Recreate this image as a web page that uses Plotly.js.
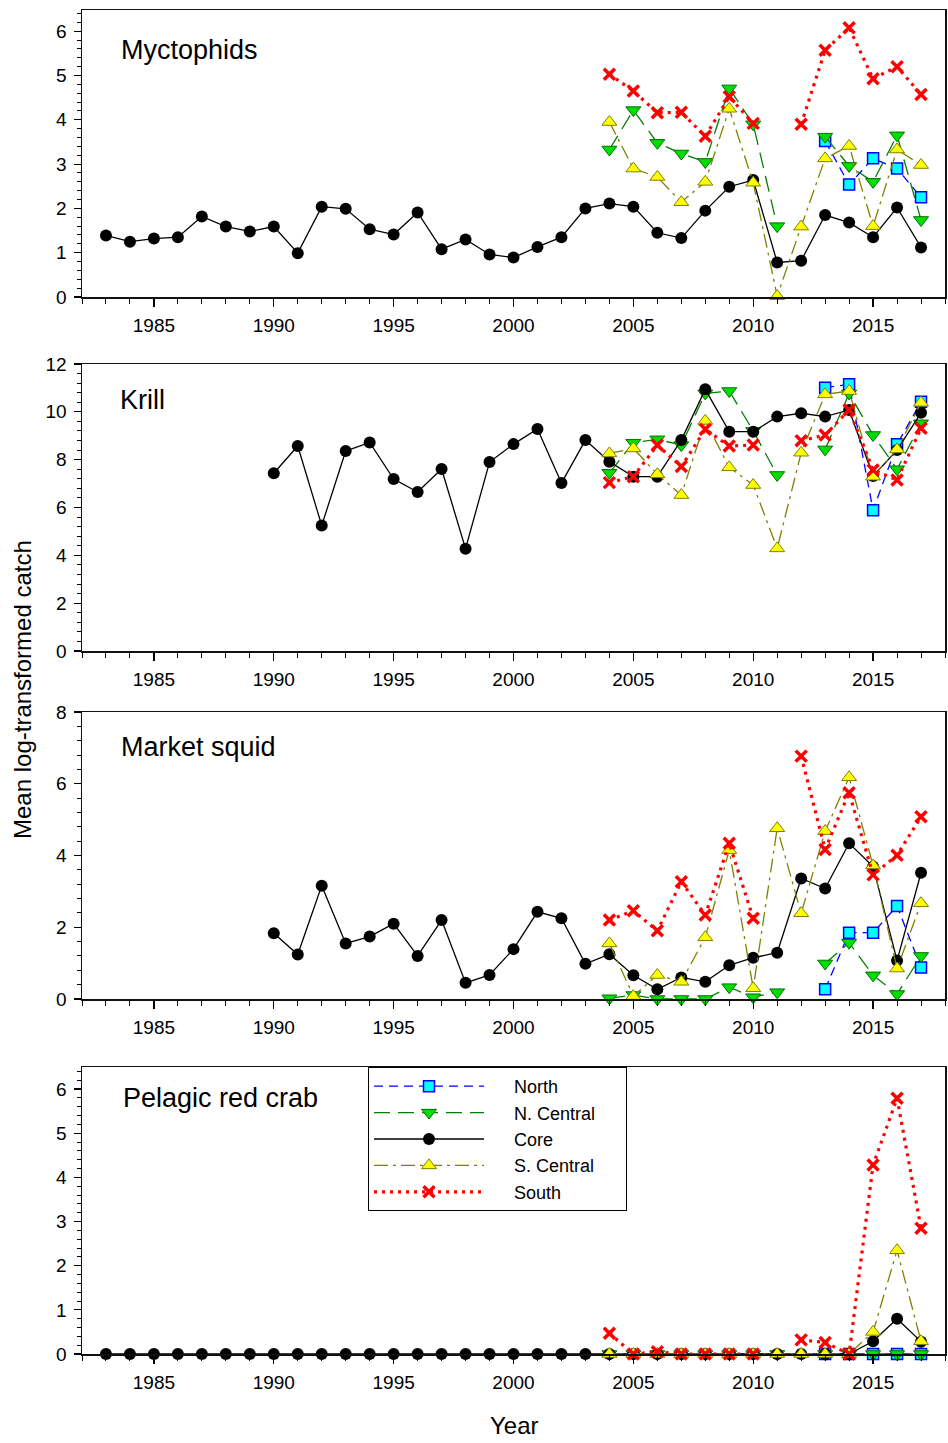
<!DOCTYPE html>
<html>
<head>
<meta charset="utf-8">
<script src="https://cdn.plot.ly/plotly-3.0.1.min.js"></script>
<style>html,body{margin:0;padding:0;background:#fff;}#chart{width:948px;height:1443px;}</style>
</head>
<body>
<div id="chart"></div>
<script>
// ---------------- DATA ----------------
const yearsLong = [1983,1984,1985,1986,1987,1988,1989,1990,1991,1992,1993,1994,1995,1996,1997,1998,1999,2000,2001,2002,2003,2004,2005,2006,2007,2008,2009,2010,2011,2012,2013,2014,2015,2016,2017];
const yearsMid = [1990,1991,1992,1993,1994,1995,1996,1997,1998,1999,2000,2001,2002,2003,2004,2005,2006,2007,2008,2009,2010,2011,2012,2013,2014,2015,2016,2017];
const yearsRegion = [2004,2005,2006,2007,2008,2009,2010,2011,2012,2013,2014,2015,2016,2017];

const panelNames = ["Myctophids", "Krill", "Market squid", "Pelagic red crab"];
const seriesNames = ["North", "N. Central", "Core", "S. Central", "South"];
const xTickVals = [1985, 1990, 1995, 2000, 2005, 2010, 2015];
const yTitle = "Mean log-transformed catch";
const xTitle = "Year";

// Myctophids
const myctCore = [1.39,1.25,1.32,1.35,1.82,1.59,1.48,1.59,0.99,2.04,1.99,1.53,1.41,1.91,1.08,1.30,0.96,0.89,1.13,1.35,2.00,2.11,2.04,1.45,1.33,1.95,2.49,2.64,0.78,0.82,1.85,1.68,1.35,2.02,1.12];
const myctNorth = [null,null,null,null,null,null,null,null,null,3.52,2.54,3.13,2.90,2.25];
const myctNCentral = [3.33,4.22,3.48,3.24,3.05,4.71,3.90,1.60,null,3.62,2.96,2.60,3.65,1.74];
const myctSCentral = [3.95,2.90,2.71,2.14,2.60,4.25,2.58,0.02,1.59,3.13,3.41,1.60,3.33,2.98];
const myctSouth = [5.03,4.65,4.16,4.17,3.63,4.52,3.92,null,3.90,5.57,6.08,4.93,5.20,4.57];

// Krill
const krillCore = [7.43,8.57,5.25,8.36,8.72,7.19,6.65,7.61,4.28,7.90,8.65,9.28,7.02,8.82,7.91,7.29,7.29,8.82,10.94,9.17,9.17,9.80,9.94,9.80,10.08,7.32,8.40,9.96];
const krillNorth = [null,null,null,null,null,null,null,null,null,11.01,11.15,5.89,8.64,10.42];
const krillNCentral = [7.45,8.71,8.85,8.61,10.77,10.87,9.20,7.36,null,8.43,10.77,9.03,7.60,9.52];
const krillSCentral = [8.26,8.47,7.39,6.52,9.62,7.68,6.94,4.29,8.29,10.73,10.87,7.29,8.43,10.38];
const krillSouth = [7.04,7.29,8.61,7.71,9.27,8.57,8.61,null,8.79,9.03,10.08,7.57,7.15,9.31];

// Market squid
const squidCore = [1.83,1.24,3.16,1.55,1.74,2.10,1.20,2.20,0.45,0.67,1.39,2.43,2.25,0.98,1.25,0.66,0.27,0.60,0.48,0.94,1.15,1.29,3.36,3.08,4.34,3.69,1.07,3.52];
const squidNorth = [null,null,null,null,null,null,null,null,null,0.27,1.85,1.85,2.59,0.88];
const squidNCentral = [0.02,0.11,0,0,0,0.33,0.05,0.19,null,0.99,1.57,0.66,0.14,1.20];
const squidSCentral = [1.55,0.08,0.67,0.48,1.72,4.15,0.30,4.76,2.39,4.68,6.18,3.72,0.85,2.67];
const squidSouth = [2.20,2.46,1.90,3.27,2.34,4.34,2.25,null,6.77,4.17,5.75,3.46,4.01,5.08];

// Pelagic red crab
const crabCore = [0,0,0,0,0,0,0,0,0,0,0,0,0,0,0,0,0,0,0,0,0,0,0,0,0,0,0,0,0,0,0,0,0.29,0.80,0.28];
const crabNorth = [null,null,null,null,null,null,null,null,null,0,0,0,0,0];
const crabNCentral = [0,0,0,0,0,0,0,0,null,0,0,0,0,0];
const crabSCentral = [0,0,0,0,0,0,0,0,0,0,0,0.50,2.35,0.29];
const crabSouth = [0.47,0,0.05,0,0,0,0,null,0.32,0.26,0,4.28,5.79,2.85];

// ---------------- STYLES ----------------
const styles = [
  {line:{color:"#0000ff", width:1.3, dash:"9px,6px"}, marker:{symbol:"square", size:11, color:"#00ffff", line:{color:"#0000ff", width:1.5}}},
  {line:{color:"#008000", width:1.3, dash:"16px,8px"}, marker:{symbol:"triangle-down", size:13, color:"#00dd00", line:{color:"#007000", width:1}}},
  {line:{color:"#000000", width:1.3}, marker:{symbol:"circle", size:12, color:"#000000", line:{color:"#000000", width:0}}},
  {line:{color:"#808000", width:1.3, dash:"14px,5px,3px,5px"}, marker:{symbol:"triangle-up", size:13, color:"#ffff00", line:{color:"#808000", width:1}}},
  {line:{color:"#ff0000", width:3.2, dash:"3px,5px"}, marker:{symbol:"x-thin-open", size:11, color:"#ff0000", line:{color:"#ff0000", width:3.5}}}
];

const panels = [
  {x:[yearsRegion, yearsRegion, yearsLong, yearsRegion, yearsRegion], y:[myctNorth, myctNCentral, myctCore, myctSCentral, myctSouth], range:[0,6.48], dtick:1, minor:0.2},
  {x:[yearsRegion, yearsRegion, yearsMid, yearsRegion, yearsRegion], y:[krillNorth, krillNCentral, krillCore, krillSCentral, krillSouth], range:[0,12], dtick:2, minor:0.4},
  {x:[yearsRegion, yearsRegion, yearsMid, yearsRegion, yearsRegion], y:[squidNorth, squidNCentral, squidCore, squidSCentral, squidSouth], range:[0,8], dtick:2, minor:0.4},
  {x:[yearsRegion, yearsRegion, yearsLong, yearsRegion, yearsRegion], y:[crabNorth, crabNCentral, crabCore, crabSCentral, crabSouth], range:[0,6.5], dtick:1, minor:0.2}
];

// pixel geometry
const W = 948, H = 1443;
const mL = 82, mR = 3, mT = 10, mB = 89;
const plotH = H - mT - mB, plotW = W - mL - mR;
const panelPx = [[10,297],[364,651],[712,999],[1067,1354]];
const labelPx = [[119,50],[118,400],[119,747],[121,1098]];
const py = (p) => (H - mB - p) / plotH;
const px = (p) => (p - mL) / plotW;
const legendPad = "\u00a0\u00a0\u00a0\u00a0\u00a0";

const font = "Liberation Sans, Arial, sans-serif";
const traces = [];
const layout = {
  width: W, height: H,
  margin: {l: mL, r: mR, t: mT, b: mB, pad: 0},
  paper_bgcolor: "#ffffff", plot_bgcolor: "#ffffff",
  font: {family: font, size: 19, color: "#000"},
  showlegend: true,
  legend: {
    x: px(368), y: py(1067), xanchor: "left", yanchor: "top",
    bgcolor: "#ffffff", bordercolor: "#000000", borderwidth: 1,
    font: {family: font, size: 18, color: "#000"},
    itemwidth: 110, tracegroupgap: 0, traceorder: "normal"
  },
  annotations: [],
  hovermode: false
};

panels.forEach((p, i) => {
  const sx = i === 0 ? "" : String(i + 1);
  for (let s = 0; s < 5; s++) {
    traces.push({
      type: "scatter", mode: "lines+markers",
      x: p.x[s], y: p.y[s],
      name: legendPad + seriesNames[s] + legendPad, legendgroup: seriesNames[s],
      showlegend: i === 0,
      connectgaps: false,
      line: styles[s].line, marker: styles[s].marker,
      xaxis: "x" + sx, yaxis: "y" + sx, cliponaxis: false
    });
  }
  const [top, bot] = panelPx[i];
  layout["xaxis" + sx] = {
    domain: [0, 1], anchor: "y" + sx, range: [1982, 2018],
    tickmode: "array", tickvals: xTickVals, ticktext: xTickVals.map(String),
    ticks: "outside", ticklen: 8, tickwidth: 1.2, tickcolor: "#000",
    minor: {dtick: 1, tick0: 1982, ticks: "outside", ticklen: 5, tickwidth: 1, tickcolor: "#000", showgrid: false},
    showgrid: false, zeroline: false,
    showline: true, linecolor: "#111", linewidth: 1.5, mirror: true,
    tickfont: {family: font, size: 19, color: "#000"}, ticklabelstandoff: 3,
    fixedrange: true
  };
  layout["yaxis" + sx] = {
    domain: [py(bot), py(top)], anchor: "x" + sx, range: p.range,
    dtick: p.dtick, tick0: 0,
    ticks: "outside", ticklen: 7, tickwidth: 1.2, tickcolor: "#000",
    minor: {dtick: p.minor, tick0: 0, ticks: "outside", ticklen: 4, tickwidth: 1, tickcolor: "#000", showgrid: false},
    showgrid: false, zeroline: false,
    showline: true, linecolor: "#111", linewidth: 1.5, mirror: true,
    tickfont: {family: font, size: 19, color: "#000"}, ticklabelstandoff: 3,
    fixedrange: true
  };
  layout.annotations.push({
    text: panelNames[i], xref: "paper", yref: "paper",
    x: px(labelPx[i][0]), y: py(labelPx[i][1]), xanchor: "left", yanchor: "middle",
    showarrow: false, font: {family: font, size: 27, color: "#000"}
  });
});

layout.annotations.push({
  text: yTitle, xref: "paper", yref: "paper", x: px(22), y: py(690),
  xanchor: "center", yanchor: "middle", textangle: -90, showarrow: false,
  font: {family: font, size: 24, color: "#000"}
});
layout.annotations.push({
  text: xTitle, xref: "paper", yref: "paper", x: px(514), y: py(1425),
  xanchor: "center", yanchor: "middle", showarrow: false,
  font: {family: font, size: 24, color: "#000"}
});

Plotly.newPlot("chart", traces, layout, {staticPlot: true, displayModeBar: false});
</script>
</body>
</html>
